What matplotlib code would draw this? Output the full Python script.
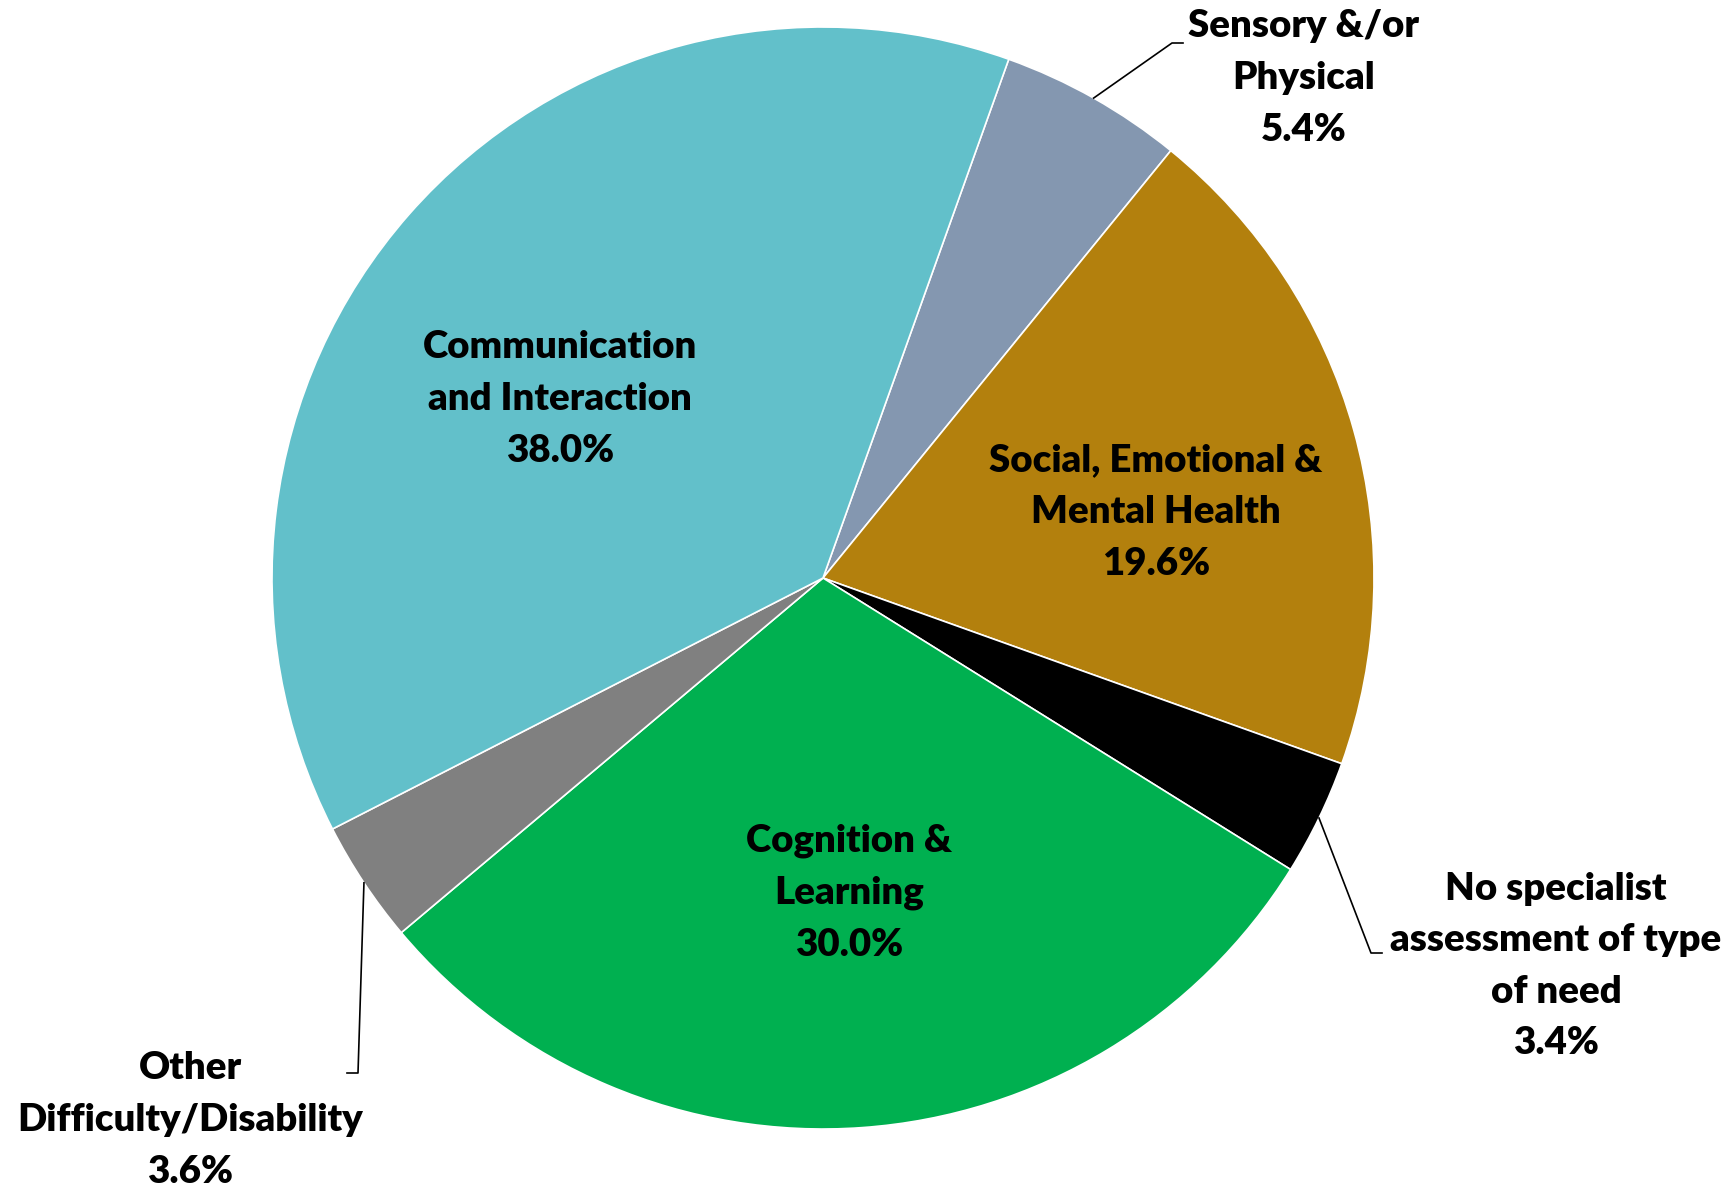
import numpy as np
import matplotlib
matplotlib.use("Agg")
import matplotlib.pyplot as plt

# share of pupils by primary type of need, drawn clockwise
categories = ["Sensory &/or\nPhysical",
              "Social, Emotional &\nMental Health",
              "No specialist\nassessment of type\nof need",
              "Cognition &\nLearning",
              "Other\nDifficulty/Disability",
              "Communication\nand Interaction"]
shares = [5.4, 19.6, 3.4, 30.0, 3.6, 38.0]
colours = ["#8497B0", "#B3800D", "#000000", "#00B050", "#808080", "#62C0CA"]

W, H = 1734, 1188
fig = plt.figure(figsize=(W / 100, H / 100), dpi=100)
ax = fig.add_axes([0, 0, 1, 1])

cx, cy, r = 823, H - 578, 551
wedges, _ = ax.pie(shares, colors=colours, startangle=70.3, counterclock=False,
                   center=(cx, cy), radius=r, frame=True,
                   wedgeprops=dict(edgecolor="white", linewidth=1.2))

ax.set_xlim(0, W)
ax.set_ylim(0, H)
ax.set_aspect("equal")
ax.axis("off")

font = dict(family="Lato", weight="heavy", size=27.6, ha="center", va="center",
            linespacing=1.63)

# label placement (pixel coords from top-left); inside labels have no leader
inside = {3: (849, 893), 1: (1156, 512), 5: (560, 399)}
outside = {0: ((1304, 78), [(1172, 43), (1183, 43)]),
           2: ((1556, 966), [(1371, 953), (1382, 953)]),
           4: ((190, 1120), [(358, 1073), (347, 1073)])}

for i, (x, y) in inside.items():
    ax.text(x, H - y, f"{categories[i]}\n{shares[i]:.1f}%", **font)

for i, ((x, y), elbow) in outside.items():
    ax.text(x, H - y, f"{categories[i]}\n{shares[i]:.1f}%", **font)
    w = wedges[i]
    mid = np.deg2rad((w.theta1 + w.theta2) / 2)
    xs = [cx + r * np.cos(mid)] + [p[0] for p in elbow]
    ys = [cy + r * np.sin(mid)] + [H - p[1] for p in elbow]
    ax.plot(xs, ys, color="black", lw=1.2)

fig.savefig("out.png", dpi=100)
